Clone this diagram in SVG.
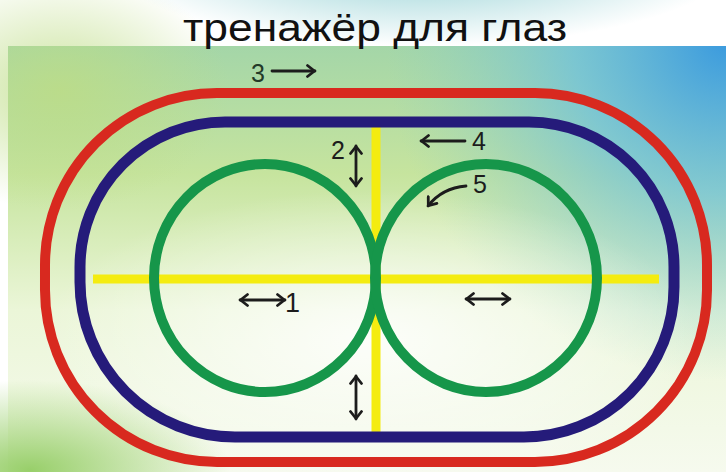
<svg xmlns="http://www.w3.org/2000/svg" width="726" height="472" viewBox="0 0 726 472">
  <defs>
    <linearGradient id="bgV" x1="0" y1="0" x2="0" y2="1">
      <stop offset="0" stop-color="#a4d6a8"/>
      <stop offset="0.3" stop-color="#c6e49e"/>
      <stop offset="0.62" stop-color="#ebf6d8"/>
      <stop offset="1" stop-color="#f6faee"/>
    </linearGradient>
    <radialGradient id="blueTR" cx="726" cy="40" r="340" gradientUnits="userSpaceOnUse">
      <stop offset="0" stop-color="#3a9ade" stop-opacity="1"/>
      <stop offset="0.45" stop-color="#6cc0df" stop-opacity="0.75"/>
      <stop offset="1" stop-color="#8fd0c8" stop-opacity="0"/>
    </radialGradient>
    <radialGradient id="tealTop" cx="0.5" cy="0" r="0.5">
      <stop offset="0" stop-color="#86cbcf" stop-opacity="0.95"/>
      <stop offset="1" stop-color="#86cbcf" stop-opacity="0"/>
    </radialGradient>
    <radialGradient id="yellowTL" cx="0.5" cy="0.5" r="0.5">
      <stop offset="0" stop-color="#bddc84" stop-opacity="0.8"/>
      <stop offset="1" stop-color="#bddc84" stop-opacity="0"/>
    </radialGradient>
    <radialGradient id="greenBL" cx="0.5" cy="0.5" r="0.5">
      <stop offset="0" stop-color="#98cf6a" stop-opacity="1"/>
      <stop offset="1" stop-color="#98cf6a" stop-opacity="0"/>
    </radialGradient>
    <radialGradient id="whiteGlow" cx="0.5" cy="0.5" r="0.5">
      <stop offset="0" stop-color="#ffffff" stop-opacity="0.85"/>
      <stop offset="1" stop-color="#ffffff" stop-opacity="0"/>
    </radialGradient>
    <marker id="head" viewBox="0 0 10 14" refX="9" refY="7" markerWidth="10" markerHeight="14" markerUnits="userSpaceOnUse" orient="auto-start-reverse">
      <path d="M1.5,1.5 L8.5,7 L1.5,12.5" fill="none" stroke="#1c1c1c" stroke-width="2.8" stroke-linecap="round" stroke-linejoin="round"/>
    </marker>
    <style>
      .track { fill: none; }
      .red { stroke: #d8291f; stroke-width: 10; }
      .blue { stroke: #251b7a; stroke-width: 11; }
      .green { fill: none; stroke: #16964a; stroke-width: 10; }
      .yellow { stroke: #f4ec10; stroke-width: 9; }
      .arrow { fill: none; stroke: #1c1c1c; stroke-width: 2.8; stroke-linecap: round; }
      .single { marker-end: url(#head); }
      .double { marker-start: url(#head); marker-end: url(#head); }
      .num { font-family: "Liberation Sans", Arial, sans-serif; font-size: 25px; fill: #1c1c1c; }
      .title { font-family: "Liberation Sans", Arial, sans-serif; font-size: 38px; fill: #111111; }
    </style>
  </defs>

  <rect x="0" y="0" width="726" height="472" fill="#ffffff"/>
  <g id="background">
    <rect x="8" y="46" width="718" height="426" fill="url(#bgV)"/>
    <ellipse cx="420" cy="46" rx="320" ry="90" fill="url(#tealTop)"/>
    <ellipse cx="60" cy="90" rx="170" ry="120" fill="url(#yellowTL)"/>
    <rect x="8" y="46" width="718" height="426" fill="url(#blueTR)"/>
    <ellipse cx="30" cy="470" rx="200" ry="90" fill="url(#greenBL)"/>
    <ellipse cx="370" cy="340" rx="330" ry="150" fill="url(#whiteGlow)"/>
  </g>

  <text id="title" class="title" x="375" y="41" text-anchor="middle" textLength="384" lengthAdjust="spacingAndGlyphs">тренажёр для глаз</text>

  <g id="red-track">
    <path class="track red" d="M217,93 H535 A172,172 0 0 1 707,265 V290 A172,172 0 0 1 535,462 H217 A172,172 0 0 1 45,290 V265 A172,172 0 0 1 217,93 Z"/>
  </g>

  <g id="yellow-cross">
    <line class="yellow" x1="93" y1="279" x2="659" y2="279"/>
    <line class="yellow" x1="376" y1="126" x2="376" y2="433"/>
  </g>

  <g id="blue-track">
    <path class="track blue" d="M225,122 H529 A145,145 0 0 1 674,267 V287 A150,150 0 0 1 524,437 H235 A155,155 0 0 1 80,282 V267 A145,145 0 0 1 225,122 Z"/>
  </g>

  <g id="left-circle">
    <ellipse class="green" cx="265" cy="278" rx="111" ry="114"/>
  </g>
  <g id="right-circle">
    <ellipse class="green" cx="486" cy="278" rx="111" ry="114"/>
  </g>

  <g id="connectors">
    <line class="arrow single" x1="272" y1="71" x2="315" y2="71"/>
    <line class="arrow double" x1="356" y1="146" x2="356" y2="186"/>
    <line class="arrow single" x1="465" y1="141" x2="421" y2="141"/>
    <path class="arrow single" d="M466,186 Q442,188 428,206"/>
    <line class="arrow double" x1="240" y1="300" x2="285" y2="300"/>
    <line class="arrow double" x1="466" y1="299" x2="510" y2="299"/>
    <line class="arrow double" x1="356" y1="376" x2="356" y2="419"/>
  </g>

  <g id="labels">
    <text class="num" x="251" y="82" style="fill:#233a28">3</text>
    <text class="num" x="331" y="159">2</text>
    <text class="num" x="472" y="150">4</text>
    <text class="num" x="473" y="193">5</text>
    <text class="num" x="285" y="312" style="font-size:27px">1</text>
  </g>
</svg>
